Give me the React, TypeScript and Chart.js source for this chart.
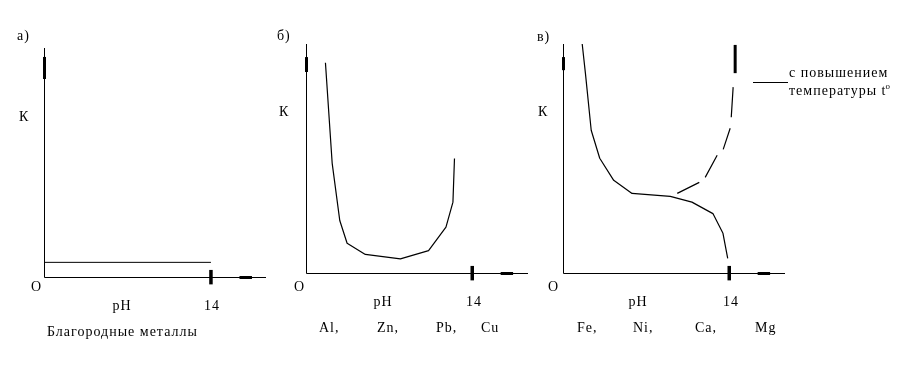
import { useEffect, useRef } from "react";
import { Chart, registerables } from "chart.js";

Chart.register(...registerables);

const W = 921;
const H = 383;

// ---- shared values ----
const kTop = 10; // K at the top of every vertical axis
const phMark = 14; // marked pH on every horizontal axis
const phMarkK = [-0.3, 0.33]; // extent of bold mark at pH 14
const phArrow = [16.4, 17.45]; // short bold dash beyond pH 14

// ---- panel а: noble metals ----
const nobleAxisEnd = 18.63;
const noblePH = [0, 14];
const nobleK = [0.66, 0.66];
const nobleKMark = [8.65, 9.61];

// ---- panel б: Al, Zn, Pb, Cu ----
const amphAxisEnd = 18.71;
const amphPH = [1.6, 2.17, 2.81, 3.43, 4.97, 7.93, 10.31, 11.78, 12.37, 12.5];
const amphK = [9.18, 4.8, 2.31, 1.32, 0.83, 0.64, 1.0, 2.02, 3.11, 5.01];
const amphKMark = [8.78, 9.43];

// ---- panel в: Fe, Ni, Ca, Mg ----
const ironAxisEnd = 18.71;
const ironPH = [1.58, 1.85, 2.34, 3.06, 4.24, 5.79, 9.02, 10.85, 12.62, 13.47, 13.87];
const ironK = [10.0, 8.73, 6.24, 5.02, 4.06, 3.49, 3.36, 3.11, 2.61, 1.75, 0.66];
const hotPH = [9.61, 11.47, null, 11.97, 12.98, null, 13.49, 14.08, null, 14.17, 14.33];
const hotK = [3.49, 3.97, null, 4.19, 5.15, null, 5.41, 6.33, null, 6.81, 8.12];
const hotTopPH = [14.5, 14.5];
const hotTopK = [8.73, 9.96];
const ironKMark = [8.86, 9.43];

// ---- texts ----
const panelLetters = ["а)", "б)", "в)"];
const axisK = "К";
const axisO = "O";
const axisPH = "pH";
const tickLabel = "14";
const nobleCaption = "Благородные металлы";
const metalsB = ["Al,", "Zn,", "Pb,", "Cu"];
const metalsC = ["Fe,", "Ni,", "Ca,", "Mg"];
const legendLines = ["с повышением", "температуры t"];
const degree = "o";

type Txt = { t: string; x: number; y: number; align?: CanvasTextAlign; sup?: string };

const FONT = "14px 'Liberation Serif'";

function seg(xs: (number | null)[], ys: (number | null)[], width = 1) {
  return {
    data: xs.map((x, i) => ({ x: x as any, y: ys[i] as any })),
    showLine: true,
    borderColor: "#000",
    backgroundColor: "#000",
    borderWidth: width,
    pointRadius: 0,
    tension: 0,
    spanGaps: false,
    clip: false as any,
    borderCapStyle: "butt" as CanvasLineCap,
    borderJoinStyle: "round" as CanvasLineJoin,
  };
}

function axes(xMax: number, kMark: number[]) {
  return [
    seg([0, 0], [0, kTop]),
    seg([0, xMax], [0, 0]),
    seg([0, 0], kMark, 3),
    seg([phMark, phMark], phMarkK, 3.5),
    seg(phArrow, [0, 0], 3),
  ];
}

const textPlugin = (items: Txt[], extra?: (ctx: CanvasRenderingContext2D) => void) => ({
  id: "txt",
  afterDraw(chart: any) {
    const ctx: CanvasRenderingContext2D = chart.ctx;
    ctx.save();
    ctx.fillStyle = "#000";
    ctx.textBaseline = "alphabetic";
    for (const it of items) {
      ctx.font = FONT;
      (ctx as any).letterSpacing = "1px";
      ctx.textAlign = it.align || "left";
      ctx.fillText(it.t, it.x, it.y);
      if (it.sup) {
        const w = ctx.measureText(it.t).width;
        ctx.font = "9px 'Liberation Serif'";
        (ctx as any).letterSpacing = "0px";
        ctx.textAlign = "left";
        ctx.fillText(it.sup, it.x + w - 1, it.y - 6);
      }
    }
    if (extra) extra(ctx);
    ctx.restore();
  },
});

type Panel = {
  left: number;
  right: number;
  top: number;
  bottom: number;
  xMax: number;
  datasets: any[];
  texts: Txt[];
  extra?: (ctx: CanvasRenderingContext2D) => void;
};

const panels: Panel[] = [
  {
    left: 44.5,
    right: 266,
    top: 48,
    bottom: 277.5,
    xMax: nobleAxisEnd,
    datasets: [...axes(nobleAxisEnd, nobleKMark), seg(noblePH, nobleK)],
    texts: [
      { t: panelLetters[0], x: 17, y: 40 },
      { t: axisK, x: 19, y: 121 },
      { t: axisO, x: 31, y: 291 },
      { t: axisPH, x: 122, y: 310, align: "center" },
      { t: tickLabel, x: 212, y: 310, align: "center" },
      { t: nobleCaption, x: 47, y: 336 },
    ],
  },
  {
    left: 306.5,
    right: 528,
    top: 44,
    bottom: 273.5,
    xMax: amphAxisEnd,
    datasets: [...axes(amphAxisEnd, amphKMark), seg(amphPH, amphK, 1.2)],
    texts: [
      { t: panelLetters[1], x: 277, y: 40 },
      { t: axisK, x: 279, y: 116 },
      { t: axisO, x: 294, y: 291 },
      { t: axisPH, x: 383, y: 306, align: "center" },
      { t: tickLabel, x: 474, y: 306, align: "center" },
      { t: metalsB[0], x: 319, y: 332 },
      { t: metalsB[1], x: 377, y: 332 },
      { t: metalsB[2], x: 436, y: 332 },
      { t: metalsB[3], x: 481, y: 332 },
    ],
  },
  {
    left: 563.5,
    right: 785,
    top: 44,
    bottom: 273.5,
    xMax: ironAxisEnd,
    datasets: [
      ...axes(ironAxisEnd, ironKMark),
      seg(ironPH, ironK, 1.2),
      seg(hotPH, hotK, 1.2),
      seg(hotTopPH, hotTopK, 3),
    ],
    texts: [
      { t: panelLetters[2], x: 537, y: 41 },
      { t: axisK, x: 538, y: 116 },
      { t: axisO, x: 548, y: 291 },
      { t: axisPH, x: 638, y: 306, align: "center" },
      { t: tickLabel, x: 731, y: 306, align: "center" },
      { t: metalsC[0], x: 577, y: 332 },
      { t: metalsC[1], x: 633, y: 332 },
      { t: metalsC[2], x: 695, y: 332 },
      { t: metalsC[3], x: 755, y: 332 },
      { t: legendLines[0], x: 789, y: 77 },
      { t: legendLines[1], x: 789, y: 95, sup: degree },
    ],
    extra: (ctx) => {
      ctx.strokeStyle = "#000";
      ctx.lineWidth = 1;
      ctx.beginPath();
      ctx.moveTo(753, 82.5);
      ctx.lineTo(788, 82.5);
      ctx.stroke();
    },
  },
];

function PanelChart({ p }: { p: Panel }) {
  const ref = useRef<HTMLCanvasElement | null>(null);
  useEffect(() => {
    if (!ref.current) return;
    const chart = new Chart(ref.current, {
      type: "scatter",
      data: { datasets: p.datasets },
      options: {
        responsive: false,
        animation: false,
        events: [],
        layout: {
          padding: { left: p.left, right: W - p.right, top: p.top, bottom: H - p.bottom },
        },
        scales: {
          x: { type: "linear", display: false, min: 0, max: p.xMax },
          y: { type: "linear", display: false, min: 0, max: kTop },
        },
        plugins: { legend: { display: false }, tooltip: { enabled: false } },
      } as any,
      plugins: [textPlugin(p.texts, p.extra) as any],
    });
    return () => chart.destroy();
  }, [p]);
  return (
    <canvas
      ref={ref}
      width={W}
      height={H}
      style={{ position: "absolute", left: 0, top: 0, width: W, height: H }}
    />
  );
}

export default function App() {
  return (
    <div
      style={{
        position: "fixed",
        left: 0,
        top: 0,
        width: W,
        height: H,
        background: "#fff",
        overflow: "hidden",
      }}
    >
      {panels.map((p, i) => (
        <PanelChart key={i} p={p} />
      ))}
    </div>
  );
}
